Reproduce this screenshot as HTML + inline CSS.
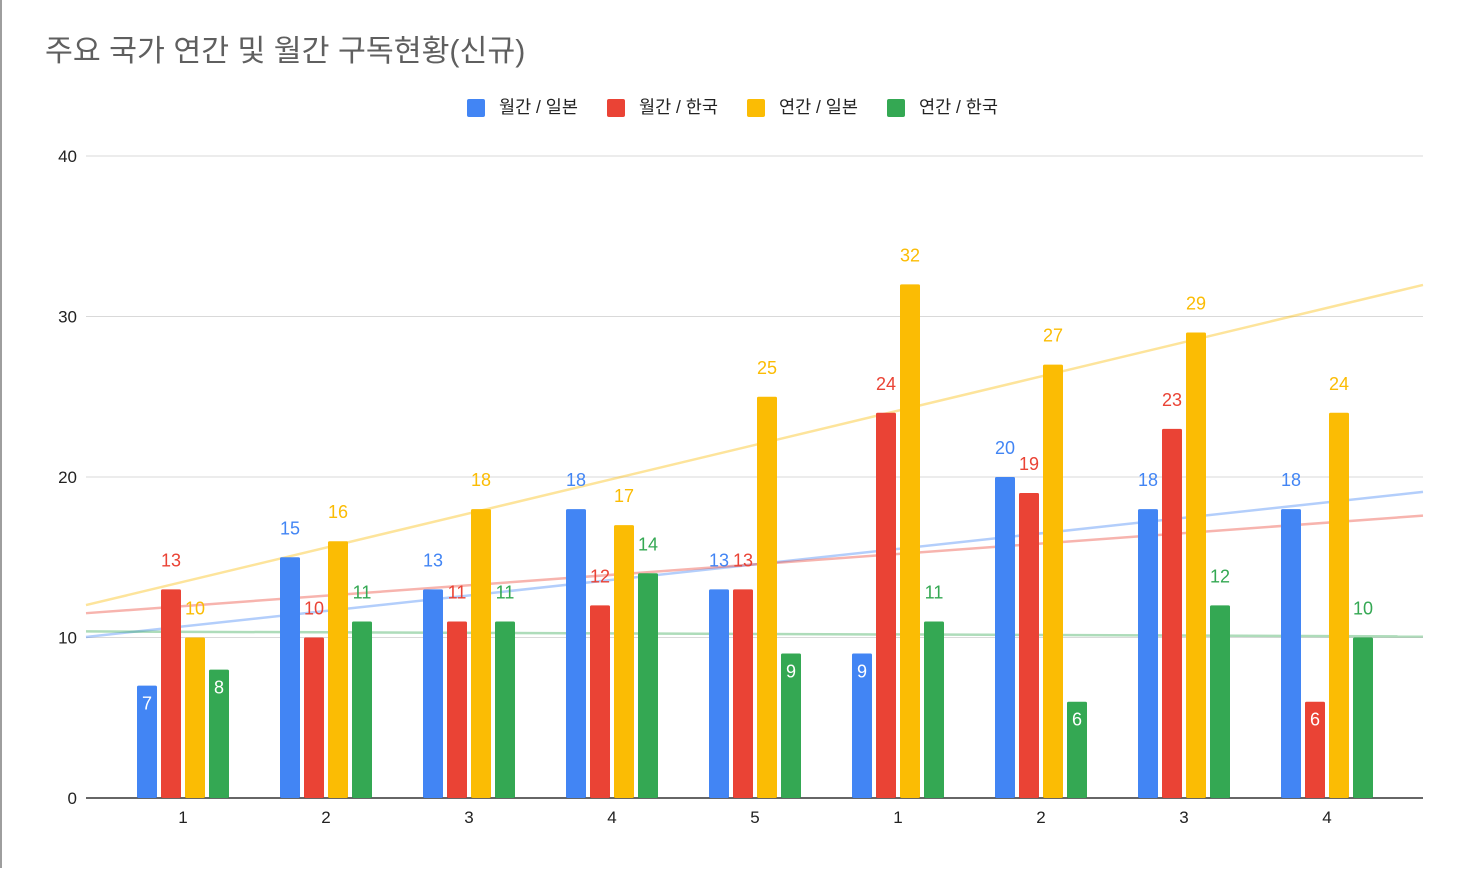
<!DOCTYPE html>
<html><head><meta charset="utf-8">
<style>
body{margin:0;width:1464px;height:868px;background:#fff;overflow:hidden;font-family:"Liberation Sans","Noto Sans CJK KR",sans-serif;}
</style></head>
<body>
<svg id="chart" width="1464" height="868" xmlns="http://www.w3.org/2000/svg">
<rect x="0" y="0" width="2" height="868" fill="#9e9e9e"/>
<text x="45" y="61" font-size="30.3" fill="#5f5f5f" font-family="Liberation Sans, Noto Sans CJK KR, sans-serif">주요 국가 연간 및 월간 구독현황(신규)</text>
<g id="legend"></g>
<g id="grid"></g>
<g id="trend"></g>
<g id="bars"></g>
<g id="labels"></g>
</svg>
<script>
const categories = ["1","2","3","4","5","1","2","3","4"];
const seriesNames = ["월간 / 일본","월간 / 한국","연간 / 일본","연간 / 한국"];
const monthlyJapan = [7,15,13,18,13,9,20,18,18];
const monthlyKorea = [13,10,11,12,13,24,19,23,6];
const yearlyJapan = [10,16,18,17,25,32,27,29,24];
const yearlyKorea = [8,11,11,14,9,11,6,12,10];
const yTicks = [0,10,20,30,40];
const colors = ["#4285f4","#ea4335","#fbbc04","#34a853"];
const series = [monthlyJapan, monthlyKorea, yearlyJapan, yearlyKorea];

const NS="http://www.w3.org/2000/svg";
const X0=86, X1=1423, Y0=798, Ytop=156, YMAX=40;
const FIRST=183, GW=143;
const y=v=>Y0-(Y0-Ytop)*v/YMAX;
const xc=i=>FIRST+GW*i;
const xinv=px=>(px-FIRST)/GW;
function mk(tag,attrs,parent){const e=document.createElementNS(NS,tag);for(const k in attrs)e.setAttribute(k,attrs[k]);document.getElementById(parent).appendChild(e);return e;}

yTicks.forEach(t=>{
  const l=mk('line',{x1:X0,x2:X1,y1:y(t),y2:y(t),stroke:t===0?'#333':'#d9d9d9','stroke-width':t===0?1.5:1},'grid');
  
  
  const tx=mk('text',{x:77,y:y(t)+6,'text-anchor':'end','font-size':17,fill:'#222'},'grid');
  tx.textContent=t;
  
  
});
categories.forEach((c,i)=>{
  const tx=mk('text',{x:xc(i),y:823,'text-anchor':'middle','font-size':17,fill:'#222'},'grid');
  tx.textContent=c;
  
  
});

// legend
const legW=[140,140,140,120];
let lx=467;
seriesNames.forEach((n,s)=>{
  const r=mk('rect',{x:lx,y:99,width:18,height:18,rx:2,fill:colors[s]},'legend');
  
  
  const t=mk('text',{x:lx+32,y:113,'font-size':17.5,fill:'#222'},'legend');
  t.textContent=n;
  
  
  lx+=legW[s];
});

// trendlines (least squares)
series.forEach((vals,s)=>{
  const n=vals.length, mx=(n-1)/2, my=vals.reduce((a,b)=>a+b,0)/n;
  let num=0,den=0; vals.forEach((v,i)=>{num+=(i-mx)*(v-my);den+=(i-mx)*(i-mx);});
  const m=num/den, b=my-m*mx;
  const a0=xinv(X0), a1=xinv(X1);
  const l=mk('line',{x1:X0,y1:y(b+m*a0),x2:X1,y2:y(b+m*a1),stroke:colors[s],'stroke-opacity':0.4,'stroke-width':2.5},'trend');
  
  
});

// bars
const bw=20, step=24;
series.forEach((vals,s)=>{
  vals.forEach((v,i)=>{
    const bx=xc(i)-46+s*step;
    const r=mk('rect',{x:bx,y:y(v),width:bw,height:Y0-y(v),fill:colors[s],rx:1.5},'bars');
    
    
    const inside=v<10;
    const t=mk('text',{x:bx+bw/2,y:inside?y(v)+24:y(v)-23,'text-anchor':'middle','font-size':18,fill:inside?'#fff':colors[s]},'labels');
    t.textContent=v;
    
    
  });
});
</script>
</body></html>
